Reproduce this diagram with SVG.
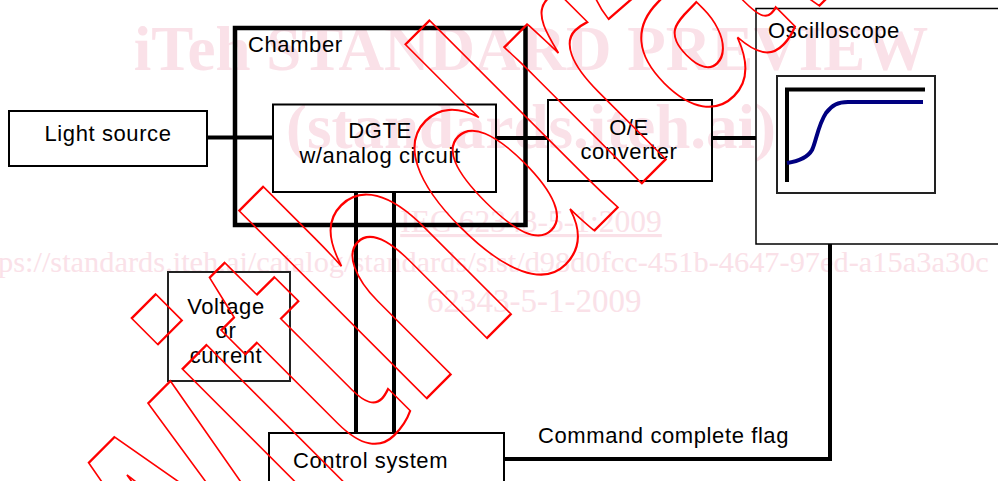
<svg xmlns="http://www.w3.org/2000/svg" width="998" height="481" viewBox="0 0 998 481">
<style>
.wm{font-family:"Liberation Serif","Times New Roman",serif;fill:#fae1e8}
.lbl{font-family:"Liberation Sans",Arial,sans-serif;font-size:22px;letter-spacing:0.6px;fill:#000}
.box{fill:none;stroke:#000;stroke-width:2}
.wire{fill:none;stroke:#000;stroke-width:4}
</style>
<g id="watermark">
<text class="wm" x="531" y="70" font-size="63" font-weight="bold" text-anchor="middle">iTeh STANDARD PREVIEW</text>
<text class="wm" x="531" y="148" font-size="63" font-weight="bold" text-anchor="middle">(standards.iteh.ai)</text>
<text class="wm" x="531" y="232" font-size="31.5" text-anchor="middle" text-decoration="underline">IEC 62343-5-1:2009</text>
<text class="wm" x="-2" y="272" font-size="30.4">ps://standards.iteh.ai/catalog/standards/sist/d98d0fcc-451b-4647-97ed-a15a3a30c</text>
<text class="wm" x="427" y="312" font-size="33">62343-5-1-2009</text>
</g>
<g id="connectors">
<line class="wire" x1="207" y1="137.5" x2="273" y2="137.5"/>
<line class="wire" x1="496" y1="138" x2="548" y2="138"/>
<line class="wire" x1="712" y1="138" x2="756" y2="138"/>
<line class="wire" x1="356" y1="192" x2="356" y2="433"/>
<line class="wire" x1="394" y1="192" x2="394" y2="433"/>
<polyline class="wire" points="830,244 830,459 504,459"/>
</g>
<g id="chamber">
<rect x="235" y="28" width="290.5" height="197" fill="none" stroke="#000" stroke-width="4.5"/>
<text class="lbl" x="248" y="52">Chamber</text>
</g>
<g id="light-source">
<rect class="box" x="9" y="111" width="198" height="55"/>
<text class="lbl" x="108" y="141" text-anchor="middle">Light source</text>
</g>
<g id="dgte">
<rect class="box" x="273" y="104.5" width="223" height="87.5"/>
<text class="lbl" x="380" y="138" text-anchor="middle">DGTE</text>
<text class="lbl" x="380" y="163" text-anchor="middle">w/analog circuit</text>
</g>
<g id="oe-converter">
<rect class="box" x="548" y="100" width="164" height="81"/>
<text class="lbl" x="629" y="135" text-anchor="middle">O/E</text>
<text class="lbl" x="629" y="159" text-anchor="middle">converter</text>
</g>
<g id="oscilloscope">
<rect x="756" y="8.5" width="260" height="235.5" fill="none" stroke="#000" stroke-width="1.5"/>
<text class="lbl" x="768" y="38">Oscilloscope</text>
<rect x="777" y="76" width="158" height="117" fill="none" stroke="#222" stroke-width="2"/>
<polyline points="787,182 787,89.5 925,89.5" fill="none" stroke="#000" stroke-width="4"/>
<path d="M787,163 C800,161 808,157 812,150 C816,142 818,125 826,113 C832,105 838,102 848,102 L923,102" fill="none" stroke="#000080" stroke-width="4"/>
</g>
<g id="voltage-current">
<rect x="168" y="272" width="122" height="109" fill="none" stroke="#222" stroke-width="2"/>
<text class="lbl" x="226" y="314" text-anchor="middle">Voltage</text>
<text class="lbl" x="226" y="338" text-anchor="middle">or</text>
<text class="lbl" x="226" y="363" text-anchor="middle">current</text>
</g>
<g id="control-system">
<rect class="box" x="269" y="433" width="235" height="60"/>
<text class="lbl" x="293" y="468">Control system</text>
</g>
<text class="lbl" x="538" y="443">Command complete flag</text>
<g id="stamp">
<text transform="translate(170,655) rotate(-45) scale(0.68,1)" x="0" y="0" font-family="'Liberation Sans',Arial,sans-serif" font-weight="bold" font-size="366" fill="none" stroke="#ff0000" stroke-width="2" vector-effect="non-scaling-stroke">withdrawn</text>
</g>
</svg>
